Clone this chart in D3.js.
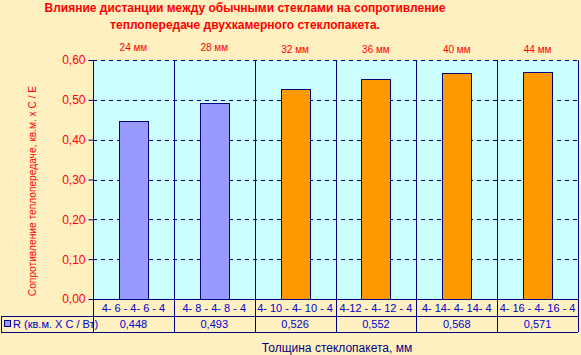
<!DOCTYPE html>
<html>
<head>
<meta charset="utf-8">
<script src="https://cdn.jsdelivr.net/npm/d3@7"></script>
<style>
  body { margin: 0; background: #fff0c1; }
  svg { display: block; font-family: 'Liberation Sans', Arial, sans-serif; }
</style>
</head>
<body>
<svg class="chart" width="581" height="355"></svg>
<script>
/* global d3 */

// data
const categories = ['4- 6 - 4- 6 - 4', '4- 8 - 4- 8 - 4', '4- 10 - 4- 10 - 4',
  '4-12 - 4- 12 - 4', '4- 14- 4- 14- 4', '4- 16 - 4- 16 - 4']
const thickness = ['24 мм', '28 мм', '32 мм', '36 мм', '40 мм', '44 мм']
const values = [0.448, 0.493, 0.526, 0.552, 0.568, 0.571]
const valueLabels = ['0,448', '0,493', '0,526', '0,552', '0,568', '0,571']
const yTicks = [0, 0.1, 0.2, 0.3, 0.4, 0.5, 0.6]

const titleLines = ['Влияние дистанции между обычными стеклами на сопротивление',
  'теплопередаче двухкамерного стеклопакета.']
const yTitle = 'Сопротивление теплопередаче, кв.м. х С / Е'
const xTitle = 'Толщина стеклопакета, мм'
const seriesName = 'R (кв.м. Х С / Вт)'

// colours
const navy = '#000080'
const blue = '#0000cc'
const red = '#ff0000'
const barColor = i => i < 2 ? '#9999ff' : '#ff9900'

// plot box
const plotLeft = 93
const plotRight = 578
const plotTop = 60
const plotBottom = 299
const row1 = 316
const row2 = 332

const svg = d3.select('.chart')

const x = d3.scaleBand()
    .domain(categories)
    .range([plotLeft, plotRight])

const y = d3.scaleLinear()
    .domain([0, 0.6])
    .range([plotBottom, plotTop])

// title
svg.append('g').selectAll('text').data(titleLines)
  .enter().append('text')
    .attr('x', 245)
    .attr('y', (d, i) => 12 + i * 17)
    .attr('text-anchor', 'middle')
    .attr('fill', red)
    .attr('font-weight', 'bold')
    .attr('font-size', 12)
    .text(d => d)

// plot background
svg.append('rect')
  .attr('x', plotLeft)
  .attr('y', plotTop)
  .attr('width', plotRight - plotLeft)
  .attr('height', plotBottom - plotTop)
  .attr('fill', '#ccffff')

// dashed gridlines
svg.append('g').selectAll('line').data(yTicks.filter(d => d > 0))
  .enter().append('line')
    .attr('x1', plotLeft)
    .attr('x2', plotRight)
    .attr('y1', d => Math.round(y(d)) + 0.5)
    .attr('y2', d => Math.round(y(d)) + 0.5)
    .attr('stroke', navy)
    .attr('stroke-dasharray', '4,4')

// bars
svg.append('g').selectAll('rect').data(values)
  .enter().append('rect')
    .attr('x', (d, i) => Math.round(x(categories[i]) + x.bandwidth() * 0.32) + 0.5)
    .attr('y', d => Math.round(y(d)) + 0.5)
    .attr('width', Math.round(x.bandwidth() * 0.36))
    .attr('height', d => plotBottom - Math.round(y(d)))
    .attr('fill', (d, i) => barColor(i))
    .attr('stroke', navy)

// category separators through plot and table
const seps = categories.map(d => x(d)).concat([plotRight])
svg.append('g').selectAll('line').data(seps)
  .enter().append('line')
    .attr('x1', d => Math.round(d) + 0.5)
    .attr('x2', d => Math.round(d) + 0.5)
    .attr('y1', plotTop)
    .attr('y2', row2)
    .attr('stroke', navy)

// y axis ticks
const yAxis = d3.axisLeft(y)
    .tickValues(yTicks)
    .tickSize(5)
    .tickFormat(d => d3.format('.2f')(d).replace('.', ','))
const ya = svg.append('g')
    .attr('transform', 'translate(' + (plotLeft + 0.5) + ',0)')
    .call(yAxis)
ya.select('.domain').remove()
ya.attr('font-family', null)
ya.selectAll('line').attr('stroke', navy)
ya.selectAll('text')
    .attr('fill', red)
    .attr('font-size', 12)
    .attr('x', -8)

// table lines
svg.append('line')
  .attr('x1', plotLeft).attr('x2', plotRight)
  .attr('y1', plotBottom + 0.5).attr('y2', plotBottom + 0.5)
  .attr('stroke', navy)
svg.append('line')
  .attr('x1', 1).attr('x2', plotRight)
  .attr('y1', row1 + 0.5).attr('y2', row1 + 0.5)
  .attr('stroke', navy)
svg.append('line')
  .attr('x1', 1).attr('x2', plotRight)
  .attr('y1', row2 + 0.5).attr('y2', row2 + 0.5)
  .attr('stroke', navy)
svg.append('line')
  .attr('x1', 1.5).attr('x2', 1.5)
  .attr('y1', row1).attr('y2', row2 + 1)
  .attr('stroke', navy)

// thickness labels above plot
svg.append('g').selectAll('text').data(thickness)
  .enter().append('text')
    .attr('x', (d, i) => x(categories[i]) + x.bandwidth() / 2)
    .attr('y', (d, i) => i < 2 ? 51 : 53)
    .attr('text-anchor', 'middle')
    .attr('fill', red)
    .attr('font-size', 10)
    .text(d => d)

// category row
svg.append('g').selectAll('text').data(categories)
  .enter().append('text')
    .attr('x', d => x(d) + x.bandwidth() / 2)
    .attr('y', 312)
    .attr('text-anchor', 'middle')
    .attr('fill', blue)
    .attr('font-size', 11)
    .text(d => d)

// values row
svg.append('g').selectAll('text').data(valueLabels)
  .enter().append('text')
    .attr('x', (d, i) => x(categories[i]) + x.bandwidth() / 2)
    .attr('y', 328)
    .attr('text-anchor', 'middle')
    .attr('fill', blue)
    .attr('font-size', 11)
    .text(d => d)

// legend key
svg.append('rect')
  .attr('x', 4.5).attr('y', 320.5)
  .attr('width', 6).attr('height', 6)
  .attr('fill', '#9999ff')
  .attr('stroke', navy)
svg.append('text')
  .attr('x', 13).attr('y', 328)
  .attr('fill', blue)
  .attr('font-size', 11)
  .text(seriesName)

// axis titles
svg.append('text')
  .attr('transform', 'translate(36,191) rotate(-90)')
  .attr('text-anchor', 'middle')
  .attr('fill', red)
  .attr('font-size', 10.2)
  .text(yTitle)

svg.append('text')
  .attr('x', 337)
  .attr('y', 352)
  .attr('text-anchor', 'middle')
  .attr('fill', navy)
  .attr('font-size', 12)
  .text(xTitle)
</script>
</body>
</html>
